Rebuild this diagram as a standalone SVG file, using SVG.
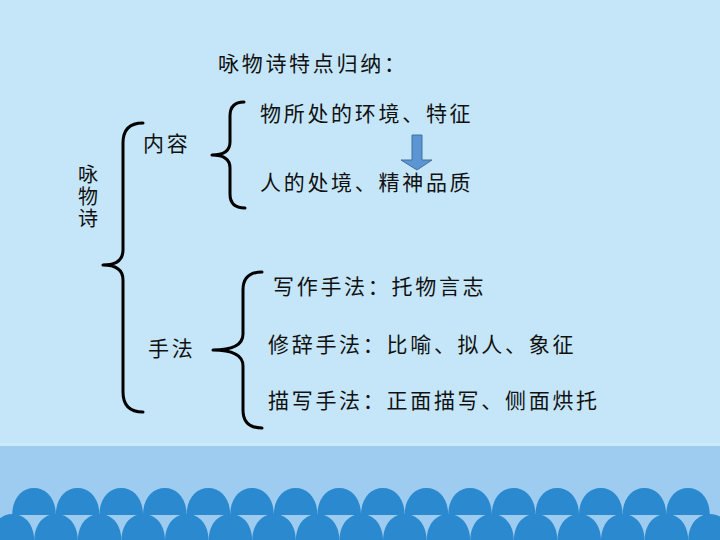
<svg xmlns="http://www.w3.org/2000/svg" xmlns:xlink="http://www.w3.org/1999/xlink" width="720" height="540" viewBox="0 0 720 540">
<style>
.t{font-family:"Noto Sans CJK SC","Noto Sans CJK JP",sans-serif;font-size:21px;fill:#111;letter-spacing:2.7px}
.tv{font-family:"Noto Sans CJK SC","Noto Sans CJK JP",sans-serif;font-size:20px;fill:#111;writing-mode:vertical-rl;letter-spacing:2px}
.br{fill:none;stroke:#000;stroke-width:3;stroke-linecap:round;stroke-linejoin:round}
.dome{fill:#2B89CF}
</style>
<defs>
<path id="d" class="dome" d="M-21.8,27 C-21.8,10 -12,0 0,0 C12,0 21.8,10 21.8,27 Z"/>
</defs>
<g id="background">
<rect x="0" y="0" width="720" height="540" fill="#C5E6F8"/>
<rect x="0" y="443" width="720" height="3" fill="#CBEAFA"/>
<rect x="0" y="446" width="720" height="94" fill="#9DCCF0"/>
<g id="domes-top" transform="translate(0,488)">
<use xlink:href="#d" x="34"/><use xlink:href="#d" x="77.6"/><use xlink:href="#d" x="121.2"/><use xlink:href="#d" x="164.8"/>
<use xlink:href="#d" x="208.4"/><use xlink:href="#d" x="252"/><use xlink:href="#d" x="295.6"/><use xlink:href="#d" x="339.2"/>
<use xlink:href="#d" x="382.8"/><use xlink:href="#d" x="426.4"/><use xlink:href="#d" x="470"/><use xlink:href="#d" x="513.6"/>
<use xlink:href="#d" x="557.2"/><use xlink:href="#d" x="600.8"/><use xlink:href="#d" x="644.4"/><use xlink:href="#d" x="688"/>
</g>
<g id="domes-bottom" transform="translate(0,514)">
<use xlink:href="#d" x="12.4"/><use xlink:href="#d" x="56"/><use xlink:href="#d" x="99.6"/><use xlink:href="#d" x="143.2"/>
<use xlink:href="#d" x="186.8"/><use xlink:href="#d" x="230.4"/><use xlink:href="#d" x="274"/><use xlink:href="#d" x="317.6"/>
<use xlink:href="#d" x="361.2"/><use xlink:href="#d" x="404.8"/><use xlink:href="#d" x="448.4"/><use xlink:href="#d" x="492"/>
<use xlink:href="#d" x="535.6"/><use xlink:href="#d" x="579.2"/><use xlink:href="#d" x="622.8"/><use xlink:href="#d" x="666.4"/>
<use xlink:href="#d" x="710"/>
</g>
</g>
<g id="connectors">
<path class="br" d="M143,123 Q123,123 123,143 L123,250 Q123,265 103,265 Q123,265 123,280 L123,392 Q123,412 143,412"/>
<path class="br" d="M244,102 Q230,102 230,116 L230,142 Q230,155 212,155 Q230,155 230,168 L230,194 Q230,208 245,208"/>
<path class="br" d="M262,272 Q243,272 243,290 L243,334 Q243,350 213,350 Q243,350 243,366 L243,410 Q243,428 262,428"/>
<path d="M412,135 L422,135 L422,160 L432,160 L417,170 L401,160 L412,160 Z" fill="#5B95D3" stroke="#41719C" stroke-width="1"/>
</g>
<g id="title"><text class="t" x="218" y="71">咏物诗特点归纳：</text></g>
<g id="root"><text class="tv" x="88" y="164">咏物诗</text></g>
<g id="content"><text class="t" x="143" y="151">内容</text></g>
<g id="content-1"><text class="t" x="260" y="121">物所处的环境、特征</text></g>
<g id="content-2"><text class="t" x="260" y="190">人的处境、精神品质</text></g>
<g id="method"><text class="t" x="148" y="356">手法</text></g>
<g id="method-1"><text class="t" x="273" y="294">写作手法：托物言志</text></g>
<g id="method-2"><text class="t" x="268" y="352">修辞手法：比喻、拟人、象征</text></g>
<g id="method-3"><text class="t" x="268" y="408">描写手法：正面描写、侧面烘托</text></g>
</svg>
